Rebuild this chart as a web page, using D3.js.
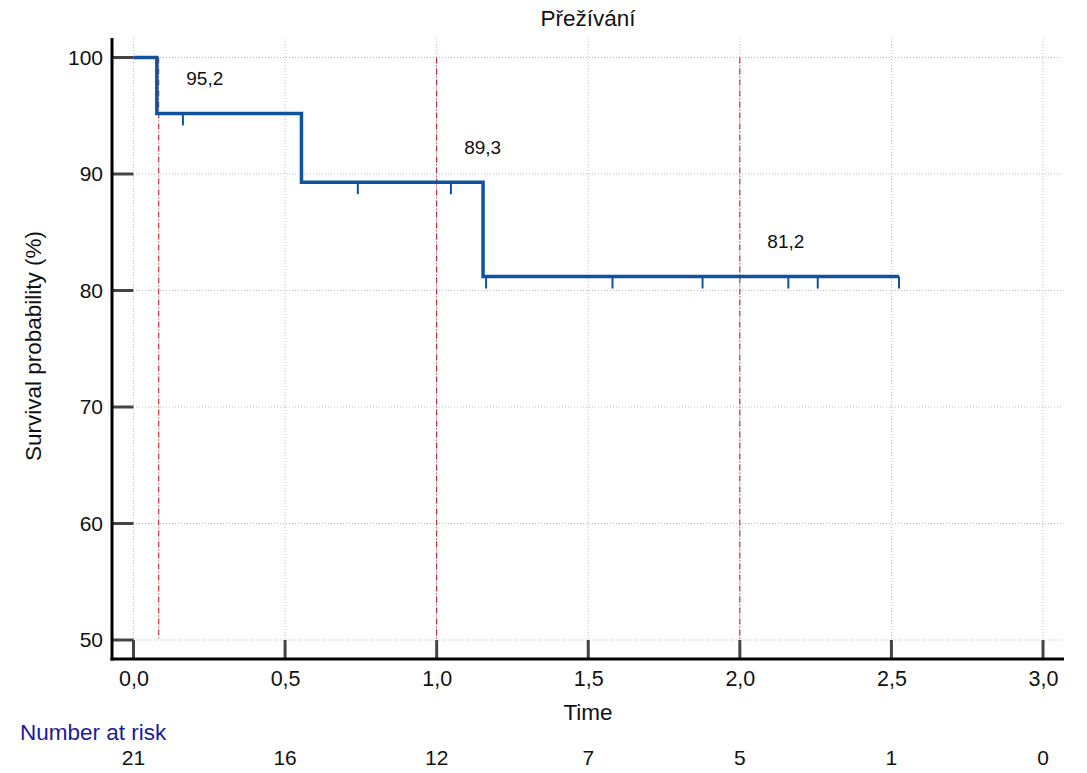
<!DOCTYPE html>
<html>
<head>
<meta charset="utf-8">
<script src="https://cdn.jsdelivr.net/npm/d3@7"></script>
<style>
  body { margin: 0; background: #fff; }
  svg text { font-family: "Liberation Sans", Arial, sans-serif; fill: #111; }
</style>
</head>
<body>
<svg id="chart" width="1087" height="773"></svg>
<script>
// Kaplan-Meier steps
const stepTimes = [0, 0.077, 0.554, 1.153];
const stepSurvival = [100, 95.2, 89.3, 81.2];
const endTime = 2.525;

// censored observations
const censorTimes = [0.163, 0.74, 1.047, 1.163, 1.58, 1.877, 2.16, 2.257, 2.525];

// reference times with survival label
const refTimes = [0.0833, 1, 2];
const refLabels = ["95,2", "89,3", "81,2"];
const refSurvival = [95.2, 89.3, 81.2];

// ticks and number at risk
const xTicks = [0, 0.5, 1, 1.5, 2, 2.5, 3];
const yTicks = [50, 60, 70, 80, 90, 100];
const atRisk = [21, 16, 12, 7, 5, 1, 0];

const svg = d3.select("#chart");
const fmt = d => d3.format(".1f")(d).replace(".", ",");

const x = d3.scaleLinear().domain([0, 3]).range([133.5, 1043]);
const y = d3.scaleLinear().domain([50, 100]).range([640, 57.5]);

const axisX = 112, axisY = 659, plotTop = 38, plotRight = 1064;

// grid
svg.append("g").selectAll("line").data(xTicks).join("line")
  .attr("x1", d => x(d)).attr("x2", d => x(d))
  .attr("y1", plotTop).attr("y2", axisY)
  .attr("stroke", "#bdbdbd").attr("stroke-width", 1).attr("stroke-dasharray", "1,2");
svg.append("g").selectAll("line").data(yTicks).join("line")
  .attr("x1", axisX).attr("x2", 1062)
  .attr("y1", d => y(d)).attr("y2", d => y(d))
  .attr("stroke", "#bdbdbd").attr("stroke-width", 1).attr("stroke-dasharray", "1,2");

// red reference lines
svg.append("g").selectAll("line").data(refTimes).join("line")
  .attr("x1", d => x(d)).attr("x2", d => x(d))
  .attr("y1", y(100)).attr("y2", y(50))
  .attr("stroke", "#b4101a").attr("stroke-width", 1).attr("stroke-dasharray", "6,2,1,2");

// axes, labels from d3 axis, inward ticks drawn by hand
const xAxis = d3.axisBottom(x).tickValues(xTicks).tickSize(0).tickPadding(12).tickFormat(fmt);
const gx = svg.append("g").attr("transform", `translate(0,${axisY})`).call(xAxis);
gx.select(".domain").remove();
gx.selectAll("text").attr("font-size", 21.5).attr("fill", "#111");

const yAxis = d3.axisLeft(y).tickValues(yTicks).tickSize(0).tickPadding(9);
const gy = svg.append("g").attr("transform", `translate(${axisX},0)`).call(yAxis);
gy.select(".domain").remove();
gy.selectAll("text").attr("font-size", 21).attr("fill", "#111");

svg.append("g").selectAll("line").data(xTicks).join("line")
  .attr("x1", d => x(d)).attr("x2", d => x(d))
  .attr("y1", axisY).attr("y2", y(50))
  .attr("stroke", "#444").attr("stroke-width", 3);
svg.append("g").selectAll("line").data(yTicks).join("line")
  .attr("x1", axisX).attr("x2", x(0))
  .attr("y1", d => y(d)).attr("y2", d => y(d))
  .attr("stroke", "#444").attr("stroke-width", 3);

svg.append("line").attr("x1", axisX).attr("x2", axisX).attr("y1", plotTop).attr("y2", axisY + 1.5)
  .attr("stroke", "#000").attr("stroke-width", 3);
svg.append("line").attr("x1", axisX - 1.5).attr("x2", plotRight).attr("y1", axisY).attr("y2", axisY)
  .attr("stroke", "#000").attr("stroke-width", 3);

// survival curve
const pts = stepTimes.map((t, i) => [t, stepSurvival[i]]);
pts.push([endTime, stepSurvival[stepSurvival.length - 1]]);
const line = d3.line().curve(d3.curveStepAfter).x(d => x(d[0])).y(d => y(d[1]));
svg.append("path").datum(pts).attr("d", line)
  .attr("fill", "none").attr("stroke", "#0f529f").attr("stroke-width", 3.5)
  .attr("stroke-linejoin", "miter");

// survival at a given time
const survAt = t => {
  let s = stepSurvival[0];
  stepTimes.forEach((st, i) => { if (t >= st) s = stepSurvival[i]; });
  return s;
};

svg.append("g").selectAll("line").data(censorTimes).join("line")
  .attr("x1", d => x(d)).attr("x2", d => x(d))
  .attr("y1", d => y(survAt(d))).attr("y2", d => y(survAt(d)) + 12)
  .attr("stroke", "#0f529f").attr("stroke-width", 2);

// labels at reference times
svg.append("g").selectAll("text").data(refTimes).join("text")
  .attr("x", d => x(d) + 46).attr("y", (d, i) => y(refSurvival[i]) - 35)
  .attr("text-anchor", "middle").attr("dominant-baseline", "central")
  .attr("font-size", 19).text((d, i) => refLabels[i]);

// titles
svg.append("text").attr("x", 588).attr("y", 18).attr("text-anchor", "middle")
  .attr("dominant-baseline", "central").attr("font-size", 22.5).text("Přežívání");
svg.append("text").attr("x", 588).attr("y", 712).attr("text-anchor", "middle")
  .attr("dominant-baseline", "central").attr("font-size", 22.5).text("Time");
svg.append("text").attr("transform", "translate(33,346) rotate(-90)").attr("text-anchor", "middle")
  .attr("dominant-baseline", "central").attr("font-size", 22.5).text("Survival probability (%)");

// number at risk
svg.append("text").attr("x", 20).attr("y", 732).attr("dominant-baseline", "central")
  .attr("font-size", 22.5).style("fill", "#1a1a9c").text("Number at risk");
svg.append("g").selectAll("text").data(atRisk).join("text")
  .attr("x", (d, i) => x(xTicks[i])).attr("y", 757)
  .attr("text-anchor", "middle").attr("dominant-baseline", "central")
  .attr("font-size", 21).text(d => d);
</script>
</body>
</html>
